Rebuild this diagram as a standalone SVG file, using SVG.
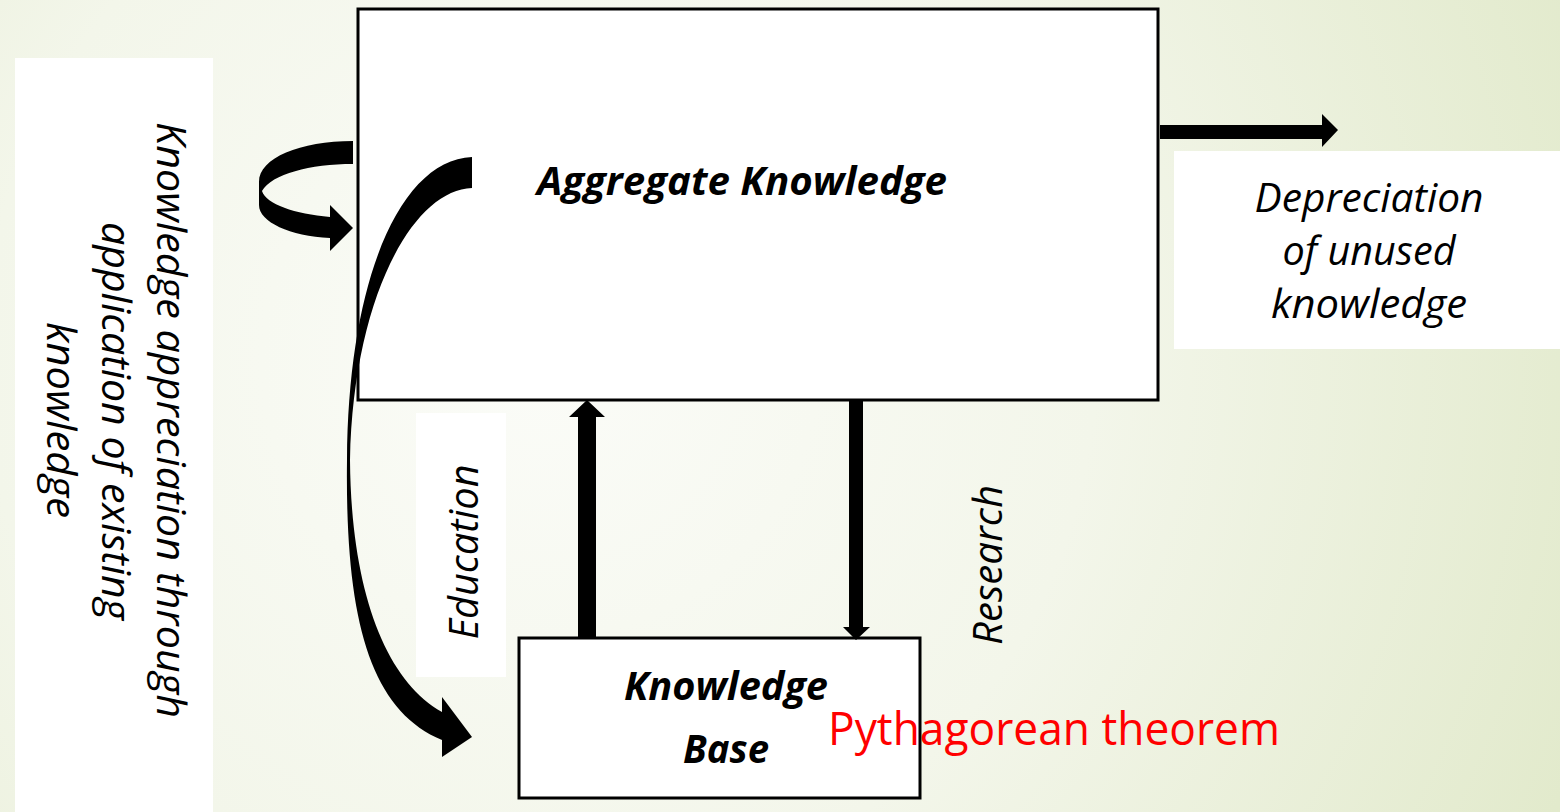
<svg xmlns="http://www.w3.org/2000/svg" width="1560" height="812" viewBox="0 0 1560 812">
  <defs>
    <radialGradient id="bg" gradientUnits="userSpaceOnUse" cx="540" cy="360" r="1110">
      <stop offset="0" stop-color="#fbfcf8"/>
      <stop offset="0.5" stop-color="#f3f6ea"/>
      <stop offset="1" stop-color="#e2eacc"/>
    </radialGradient>
    <style>
      .box { fill: #ffffff; stroke: #000000; stroke-width: 3; }
      .pad { fill: #ffffff; stroke: none; }
      .t { font-family: "Open Sans", "Noto Sans", "Liberation Sans", sans-serif; font-size: 40px; font-style: italic; fill: #000000; }
      .b { font-weight: bold; }
      .red { font-family: "Open Sans", "Noto Sans", "Liberation Sans", sans-serif; font-size: 45px; fill: #ff0000; }
      .arrow { fill: #000000; stroke: none; }
    </style>
  </defs>

  <rect x="0" y="0" width="1560" height="812" fill="url(#bg)"/>

  <g id="node-appreciation">
    <rect class="pad" x="15" y="58" width="198" height="754"/>
    <text class="t" text-anchor="middle" transform="translate(157,420) rotate(90)" textLength="596" lengthAdjust="spacingAndGlyphs">Knowledge appreciation through</text>
    <text class="t" text-anchor="middle" transform="translate(102,421) rotate(90)" textLength="398" lengthAdjust="spacingAndGlyphs">application of existing</text>
    <text class="t" text-anchor="middle" transform="translate(47,420) rotate(90)" textLength="196" lengthAdjust="spacingAndGlyphs">knowledge</text>
  </g>

  <g id="node-aggregate">
    <rect class="box" x="358" y="9" width="800" height="391"/>
    <text class="t b" x="742" y="195" text-anchor="middle" textLength="410" lengthAdjust="spacingAndGlyphs">Aggregate Knowledge</text>
  </g>

  <g id="node-depreciation">
    <rect class="pad" x="1174" y="151" width="386" height="198"/>
    <text class="t" x="1369" y="212" text-anchor="middle" textLength="229" lengthAdjust="spacingAndGlyphs">Depreciation</text>
    <text class="t" x="1369" y="265" text-anchor="middle" textLength="173" lengthAdjust="spacingAndGlyphs">of unused</text>
    <text class="t" x="1369" y="318" text-anchor="middle" textLength="196" lengthAdjust="spacingAndGlyphs">knowledge</text>
  </g>

  <g id="label-education">
    <rect class="pad" x="416" y="413" width="90" height="264"/>
    <text class="t" text-anchor="middle" transform="translate(478,552) rotate(-90)" textLength="175" lengthAdjust="spacingAndGlyphs">Education</text>
  </g>

  <g id="label-research">
    <text class="t" text-anchor="middle" transform="translate(1002,565) rotate(-90)" textLength="160" lengthAdjust="spacingAndGlyphs">Research</text>
  </g>

  <g id="node-kb">
    <rect class="box" x="519" y="638" width="401" height="160"/>
    <text class="t b" x="726" y="700" text-anchor="middle" textLength="204" lengthAdjust="spacingAndGlyphs">Knowledge</text>
    <text class="t b" x="726" y="763" text-anchor="middle" textLength="86" lengthAdjust="spacingAndGlyphs">Base</text>
  </g>

  <g id="connectors">
    <!-- depreciation arrow -->
    <path class="arrow" d="M1160 125 L1322 125 L1322 114 L1338 130 L1322 147 L1322 139 L1160 139 Z"/>
    <!-- education arrow (up) -->
    <path class="arrow" d="M578 637 L578 417 L569 417 L587 400 L605 417 L596 417 L596 637 Z"/>
    <!-- research arrow (down) -->
    <path class="arrow" d="M849 400 L863 400 L863 627 L870 627 L856 640 L843 627 L849 627 Z"/>
    <!-- self-loop appreciation arrow -->
    <path class="arrow" d="M353 141 C300 141 259 158 259 182 L259 205 C259 222 290 236 330 238 L330 251 L353 228 L330 205 L330 217 C295 214 266 204 262 191 C272 174 310 164 353 164 Z"/>
    <!-- big curved arrow to knowledge base -->
    <path class="arrow" d="M472 157 C400 160 348 280 347 460 C345 620 370 710 442 740 L442 757 L472 737 L442 697 L442 712 C385 680 351 590 350 460 C353 300 412 190 472 188 Z"/>
  </g>

  <g id="label-pythagorean">
    <text class="red" x="828" y="745" textLength="452" lengthAdjust="spacingAndGlyphs">Pythagorean theorem</text>
  </g>
</svg>
